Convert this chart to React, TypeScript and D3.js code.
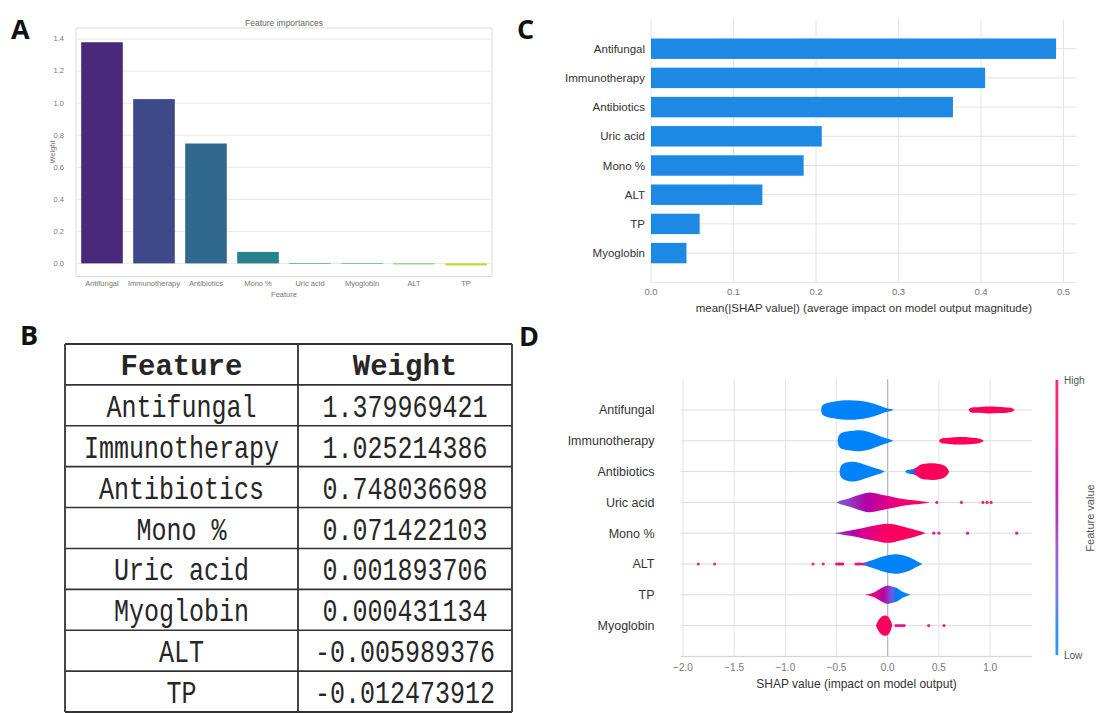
import React from 'react';
import * as d3 from 'd3';

// ---- data ----
const features = ['Antifungal', 'Immunotherapy', 'Antibiotics', 'Mono %', 'Uric acid', 'Myoglobin', 'ALT', 'TP'];
const weights = [1.379969421, 1.025214386, 0.748036698, 0.071422103, 0.001893706, 0.000431134, -0.005989376, -0.012473912];
const weightTicks = [0, 0.2, 0.4, 0.6, 0.8, 1.0, 1.2, 1.4];

const shapFeatures = ['Antifungal', 'Immunotherapy', 'Antibiotics', 'Uric acid', 'Mono %', 'ALT', 'TP', 'Myoglobin'];
const shapMeanAbs = [0.491, 0.405, 0.366, 0.207, 0.185, 0.135, 0.059, 0.043];
const shapBarTicks = [0, 0.1, 0.2, 0.3, 0.4, 0.5];
const shapTicks = [-2, -1.5, -1, -0.5, 0, 0.5, 1];

// violin outlines: [shap value, half width (rows), feature value 0..1]
const antifungalViolin = [
  [[-0.65, 0, 0.03], [-0.64, 0.14, 0.03], [-0.6, 0.22, 0.03], [-0.53, 0.27, 0.03], [-0.45, 0.31, 0.03], [-0.37, 0.32, 0.03], [-0.28, 0.3, 0.03], [-0.2, 0.26, 0.03], [-0.14, 0.21, 0.03], [-0.07, 0.13, 0.03], [-0.01, 0.06, 0.03], [0.03, 0.03, 0.03], [0.06, 0, 0.03]],
  [[0.79, 0, 0.97], [0.81, 0.07, 0.97], [0.88, 0.09, 0.97], [0.98, 0.11, 0.97], [1.08, 0.1, 0.97], [1.18, 0.08, 0.97], [1.22, 0.05, 0.97], [1.24, 0, 0.97]],
];
const immunotherapyViolin = [
  [[-0.49, 0, 0.03], [-0.48, 0.15, 0.03], [-0.46, 0.24, 0.03], [-0.4, 0.3, 0.03], [-0.33, 0.33, 0.03], [-0.27, 0.34, 0.03], [-0.2, 0.3, 0.03], [-0.11, 0.2, 0.03], [-0.04, 0.11, 0.03], [0.02, 0.05, 0.03], [0.055, 0, 0.03]],
  [[0.5, 0, 0.97], [0.52, 0.07, 0.97], [0.6, 0.1, 0.97], [0.7, 0.12, 0.97], [0.8, 0.11, 0.97], [0.9, 0.07, 0.97], [0.94, 0, 0.97]],
];
const antibioticsViolin = [
  [[-0.47, 0, 0.03], [-0.46, 0.16, 0.03], [-0.43, 0.26, 0.03], [-0.38, 0.31, 0.03], [-0.33, 0.32, 0.03], [-0.27, 0.28, 0.03], [-0.2, 0.2, 0.03], [-0.11, 0.1, 0.03], [-0.06, 0.05, 0.03], [-0.03, 0, 0.03]],
  [[0.17, 0, 0.03], [0.19, 0.05, 0.03], [0.24, 0.08, 0.08], [0.28, 0.13, 0.85], [0.32, 0.22, 0.97], [0.38, 0.26, 0.98], [0.44, 0.27, 0.98], [0.5, 0.25, 0.98], [0.55, 0.2, 0.98], [0.58, 0.12, 0.98], [0.6, 0, 0.98]],
];
const uricAcidViolin = [
  [[-0.5, 0, 0.3], [-0.45, 0.07, 0.32], [-0.38, 0.13, 0.4], [-0.3, 0.22, 0.48], [-0.22, 0.3, 0.55], [-0.17, 0.32, 0.58], [-0.1, 0.28, 0.65], [-0.02, 0.22, 0.72], [0.06, 0.17, 0.8], [0.15, 0.11, 0.86], [0.25, 0.07, 0.9], [0.33, 0.04, 0.93], [0.41, 0, 0.95]],
];
const monoViolin = [
  [[-0.52, 0, 0.4], [-0.45, 0.04, 0.45], [-0.34, 0.1, 0.55], [-0.24, 0.17, 0.7], [-0.14, 0.24, 0.8], [-0.06, 0.29, 0.88], [-0.01, 0.31, 0.92], [0.06, 0.29, 0.95], [0.12, 0.24, 0.95], [0.19, 0.18, 0.95], [0.25, 0.13, 0.95], [0.31, 0.07, 0.95], [0.37, 0, 0.95]],
];
const altViolin = [
  [[-0.3, 0, 0.9], [-0.26, 0.03, 0.8], [-0.22, 0.06, 0.3], [-0.18, 0.1, 0.08], [-0.14, 0.14, 0.03], [-0.07, 0.22, 0.03], [-0.01, 0.28, 0.03], [0.07, 0.32, 0.03], [0.14, 0.29, 0.03], [0.19, 0.24, 0.03], [0.24, 0.17, 0.03], [0.28, 0.1, 0.03], [0.31, 0.05, 0.03], [0.34, 0, 0.03]],
];
const tpViolin = [
  [[-0.23, 0, 0.85], [-0.18, 0.03, 0.85], [-0.13, 0.08, 0.78], [-0.09, 0.16, 0.7], [-0.04, 0.25, 0.58], [0.0, 0.3, 0.45], [0.04, 0.27, 0.25], [0.09, 0.22, 0.08], [0.12, 0.15, 0.03], [0.15, 0.09, 0.03], [0.19, 0.04, 0.03], [0.22, 0, 0.03]],
];
const myoglobinViolin = [
  [[-0.115, 0, 0.95], [-0.1, 0.12, 0.95], [-0.08, 0.22, 0.95], [-0.05, 0.31, 0.95], [-0.02, 0.33, 0.95], [0.01, 0.27, 0.95], [0.03, 0.15, 0.9], [0.045, 0, 0.9]],
];
const violins = [antifungalViolin, immunotherapyViolin, antibioticsViolin, uricAcidViolin, monoViolin, altViolin, tpViolin, myoglobinViolin];

// stray points: [shap value, feature value]
const uricAcidDots = [[0.48, 0.8], [0.72, 0.85], [0.93, 0.95], [0.97, 0.95], [1.01, 0.95]];
const monoDots = [[0.45, 0.6], [0.5, 0.6], [0.78, 0.6], [1.26, 0.6]];
const altDots = [[-1.85, 0.9], [-1.69, 0.9], [-0.73, 0.9], [-0.63, 0.9], [-0.5, 0.95], [-0.48, 0.95], [-0.47, 0.95], [-0.45, 0.95], [-0.44, 0.95], [-0.31, 0.85], [-0.29, 0.9], [-0.27, 0.85]];
const myoglobinDots = [[0.08, 0.85], [0.1, 0.8], [0.12, 0.8], [0.14, 0.8], [0.16, 0.8], [0.4, 0.75], [0.55, 0.8]];
const dots = [[], [], [], uricAcidDots, monoDots, altDots, [], myoglobinDots];

// shap red_blue colormap (lch interpolation)
const redBlue = (t: number) => {
  const l = t < 0.5 ? 54 - 28 * t : 40 + 28 * (t - 0.5);
  const c = 70 + 20 * t;
  const h = (267 + 113 * t) % 360;
  return d3.hcl(h, c, l).formatHex();
};

const sans = '"Liberation Sans", Arial, sans-serif';

function PanelA() {
  const x = d3.scaleBand().domain(features).range([76, 492]).paddingInner(0.2).paddingOuter(0.1);
  const y = d3.scaleLinear().domain([-0.082, 1.469]).range([276.5, 28]);
  const color = (i: number) => d3.interpolateViridis((i + 1) / 9);
  return (
    <g fontFamily={sans}>
      <rect x={76} y={28} width={416} height={248.5} fill="none" stroke="#dcdcdc" />
      {weightTicks.map((t, i) => (
        <g key={i}>
          <line x1={76} x2={492} y1={y(t)} y2={y(t)} stroke="#e6e6e6" />
          <text x={64} y={y(t)} dy="0.32em" textAnchor="end" fontSize={7.5} fill="#777">{t.toFixed(1)}</text>
        </g>
      ))}
      {features.map((f, i) => (
        <g key={f}>
          <rect
            x={x(f)}
            y={Math.min(y(weights[i]), y(0))}
            width={x.bandwidth()}
            height={Math.max(Math.abs(y(weights[i]) - y(0)), 0.6)}
            fill={color(i)}
          />
          <text x={(x(f) as number) + x.bandwidth() / 2} y={286} textAnchor="middle" fontSize={7.5} fill="#777">{f}</text>
        </g>
      ))}
      <text x={284} y={297} textAnchor="middle" fontSize={7.5} fill="#777">Feature</text>
      <text x={284} y={25.5} textAnchor="middle" fontSize={8.5} fill="#666">Feature importances</text>
      <text transform="translate(53,152) rotate(-90)" textAnchor="middle" dy="0.32em" fontSize={7.5} fill="#777">Weight</text>
    </g>
  );
}

function PanelB() {
  const cols = [65, 298, 512];
  const rowY = d3.scaleLinear().domain([0, 9]).range([344, 712]);
  const rows = d3.range(10);
  const mono = '"Liberation Mono", "Courier New", monospace';
  const cell = (cx: number, cy: number, label: string, key: string) => (
    <text key={key} transform={`translate(${cx},${cy}) scale(1,1.28)`} dy="0.36em" textAnchor="middle" fontSize={25}>{label}</text>
  );
  return (
    <g fontFamily={mono} fill="#262626">
      {rows.map((r) => (
        <line key={r} x1={cols[0]} x2={cols[2]} y1={rowY(r)} y2={rowY(r)} stroke="#333" strokeWidth={r === 0 || r === 9 ? 2 : 1.6} />
      ))}
      {cols.map((c, i) => (
        <line key={i} x1={c} x2={c} y1={rowY(0)} y2={rowY(9)} stroke="#333" strokeWidth={1.8} />
      ))}
      <text x={(cols[0] + cols[1]) / 2} y={(rowY(0) + rowY(1)) / 2} dy="0.36em" textAnchor="middle" fontSize={29} fontWeight="bold">Feature</text>
      <text x={(cols[1] + cols[2]) / 2} y={(rowY(0) + rowY(1)) / 2} dy="0.36em" textAnchor="middle" fontSize={29} fontWeight="bold">Weight</text>
      {features.map((f, i) => {
        const cy = (rowY(i + 1) + rowY(i + 2)) / 2;
        return (
          <g key={f}>
            {cell((cols[0] + cols[1]) / 2, cy, f, 'f')}
            {cell((cols[1] + cols[2]) / 2, cy, weights[i].toFixed(9), 'w')}
          </g>
        );
      })}
    </g>
  );
}

function PanelC() {
  const x = d3.scaleLinear().domain([0, 0.516]).range([651, 1076.7]);
  const y = d3.scaleLinear().domain([-1, 8]).range([19.5, 282.3]);
  const step = y(1) - y(0);
  return (
    <g fontFamily={sans}>
      {shapBarTicks.map((t, i) => (
        <g key={i}>
          <line x1={x(t)} x2={x(t)} y1={y(-1)} y2={y(8)} stroke="#e4e4e4" />
          <text x={x(t)} y={y(8) + 13} textAnchor="middle" fontSize={9.5} fill="#777">{t.toFixed(1)}</text>
        </g>
      ))}
      <line x1={x(0)} x2={x(0.516)} y1={y(8)} y2={y(8)} stroke="#e4e4e4" />
      {shapFeatures.map((f, i) => (
        <g key={f}>
          <line x1={x(0)} x2={x(0.516)} y1={y(i)} y2={y(i)} stroke="#e2e2e2" />
          <rect x={x(0)} y={y(i) - step * 0.35} width={x(shapMeanAbs[i]) - x(0)} height={step * 0.7} fill="#1e88e5" />
          <text x={645} y={y(i)} dy="0.35em" textAnchor="end" fontSize={11.5} fill="#333">{f}</text>
        </g>
      ))}
      <text x={(x(0) + x(0.516)) / 2} y={312} textAnchor="middle" fontSize={11.5} fill="#333">
        mean(|SHAP value|) (average impact on model output magnitude)
      </text>
    </g>
  );
}

function PanelD() {
  const x = d3.scaleLinear().domain([-2.02, 1.41]).range([680.9, 1032.1]);
  const y = d3.scaleLinear().domain([-1, 8]).range([379.2, 656.4]);
  const step = y(1) - y(0);
  const fmt = d3.format('.1f');
  const cbTop = 380;
  const cbBottom = 655;
  return (
    <g fontFamily={sans}>
      <defs>
        <linearGradient id="cbar" x1="0" x2="0" y1="1" y2="0">
          {d3.range(11).map((k) => (
            <stop key={k} offset={k / 10} stopColor={redBlue(k / 10)} />
          ))}
        </linearGradient>
        {violins.map((segs, i) =>
          segs.map((seg, j) => {
            const x1 = x(seg[0][0]);
            const x2 = x(seg[seg.length - 1][0]);
            return (
              <linearGradient key={`${i}-${j}`} id={`vg${i}-${j}`} gradientUnits="userSpaceOnUse" x1={x1} x2={x2} y1={0} y2={0}>
                {seg.map((p, k) => (
                  <stop key={k} offset={(x(p[0]) - x1) / (x2 - x1)} stopColor={redBlue(p[2])} />
                ))}
              </linearGradient>
            );
          })
        )}
      </defs>
      {shapTicks.map((t, i) => (
        <g key={i}>
          <line x1={x(t)} x2={x(t)} y1={y(-1)} y2={y(8)} stroke={t === 0 ? '#a6a6a6' : '#e4e4e4'} />
          <text x={x(t)} y={y(8) + 15} textAnchor="middle" fontSize={10} fill="#777">{fmt(t)}</text>
        </g>
      ))}
      <line x1={x(-2.02)} x2={x(1.41)} y1={y(8)} y2={y(8)} stroke="#cfcfcf" />
      {shapFeatures.map((f, i) => (
        <g key={f}>
          <line x1={x(-2.02)} x2={x(1.41)} y1={y(i)} y2={y(i)} stroke="#dcdcdc" />
          <text x={654.5} y={y(i)} dy="0.35em" textAnchor="end" fontSize={12.5} fill="#333">{f}</text>
          {dots[i].map((d, k) => (
            <circle key={k} cx={x(d[0])} cy={y(i)} r={1.6} fill={redBlue(d[1])} opacity={0.85} />
          ))}
          {violins[i].map((seg, j) => {
            const area = d3
              .area<number[]>()
              .x((p) => x(p[0]))
              .y0((p) => y(i) - p[1] * step)
              .y1((p) => y(i) + p[1] * step)
              .curve(d3.curveCatmullRom.alpha(0.5));
            return <path key={j} d={area(seg) || ''} fill={`url(#vg${i}-${j})`} />;
          })}
        </g>
      ))}
      <text x={(x(-2.02) + x(1.41)) / 2} y={688} textAnchor="middle" fontSize={12} fill="#333">
        SHAP value (impact on model output)
      </text>
      <rect x={1055.5} y={cbTop} width={2.8} height={cbBottom - cbTop} fill="url(#cbar)" opacity={0.85} />
      <text x={1064} y={cbTop} dy="0.35em" fontSize={10} fill="#555">High</text>
      <text x={1064} y={cbBottom} dy="0.35em" fontSize={10} fill="#555">Low</text>
      <text transform="translate(1090.5,518) rotate(-90)" dy="0.35em" textAnchor="middle" fontSize={11} fill="#555">Feature value</text>
    </g>
  );
}

export default function App() {
  const letter = { fontFamily: '"Open Sans", "Liberation Sans", sans-serif', fontWeight: 700, fontSize: 27, fill: '#111' } as const;
  return (
    <svg width={1099} height={713} style={{ position: 'absolute', left: 0, top: 0, background: '#fff' }}>
      <rect width={1099} height={713} fill="#fff" />
      <PanelA />
      <PanelB />
      <PanelC />
      <PanelD />
      <text x={11} y={39} {...letter}>A</text>
      <text x={20} y={345} {...letter}>B</text>
      <text x={517} y={39} {...letter}>C</text>
      <text x={519} y={346} {...letter}>D</text>
    </svg>
  );
}
